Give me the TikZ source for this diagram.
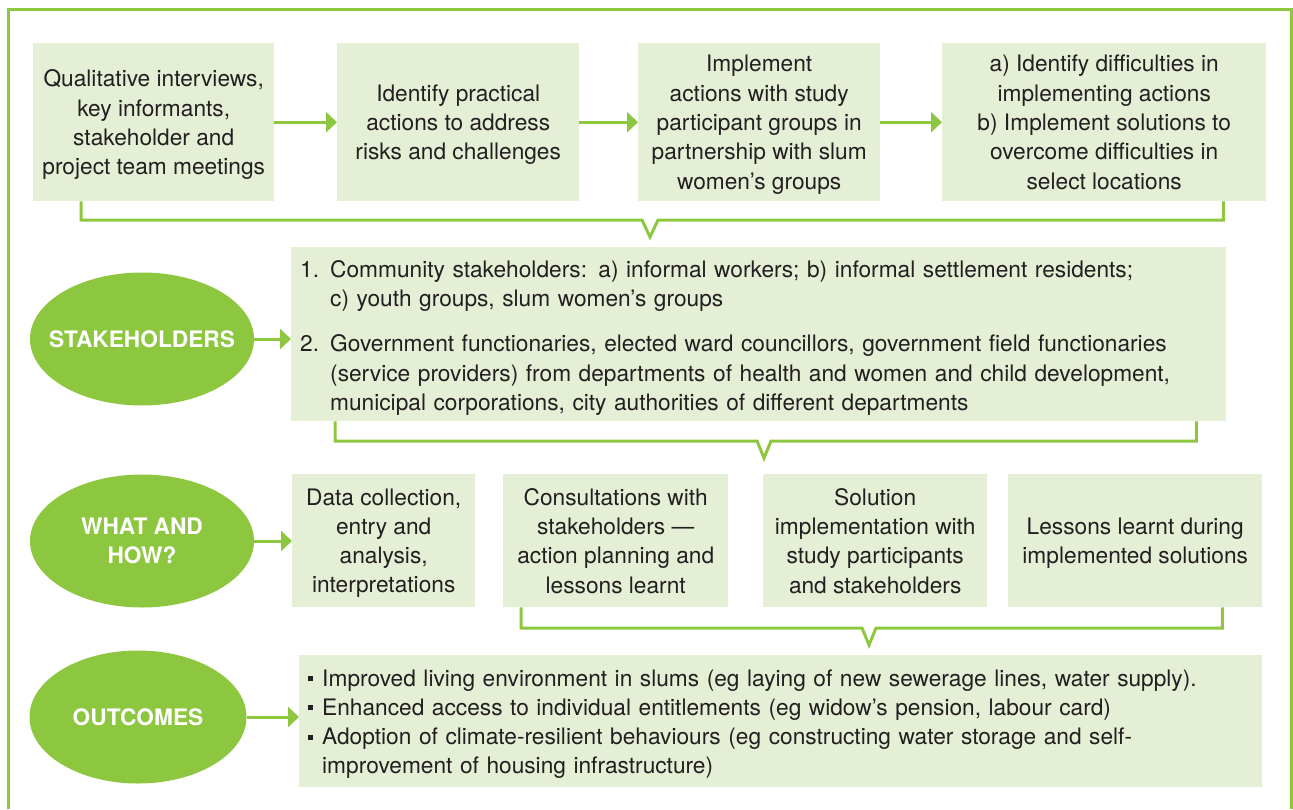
\documentclass[tikz,border=0pt]{standalone}
\usepackage{fontspec}
\setmainfont{TeX Gyre Heros}
\usetikzlibrary{arrows.meta,shapes.geometric,positioning,calc}

\definecolor{leafgreen}{RGB}{141,198,63}
\definecolor{boxgreen}{RGB}{229,239,214}
\definecolor{inkgrey}{RGB}{35,31,32}
\newcommand{\boxfont}{\fontsize{22.7}{29.3}\selectfont}
\newcommand{\sqbul}{\makebox[14pt][l]{\rule[5pt]{5pt}{5pt}}}

\tikzset{
  tilebox/.style={fill=boxgreen, text=inkgrey, inner sep=0pt, font=\boxfont, anchor=north west},
  stepbox/.style={tilebox, align=center, text depth=-4pt},
  listbox/.style={tilebox, align=left, text height=24.5pt, inner xsep=9pt},
  oval/.style={ellipse, fill=leafgreen, text=white, minimum width=224pt, minimum height=133pt, inner sep=0pt, align=center, font=\boxfont\bfseries},
  flow/.style={leafgreen, line width=3pt, -{Triangle[length=11pt,width=20pt]}},
  link/.style={leafgreen, line width=3pt},
}

\begin{document}
\begin{tikzpicture}[x=1pt, y=-1pt]
    \useasboundingbox (0,0) rectangle (1293,809);
    \draw [link] (8,809) |- (1291,9) -- (1291,809);

    % first row
    \node [stepbox, minimum width=241pt, minimum height=158pt] (q1) at (33,43) {Qualitative interviews,\\key informants,\\stakeholder and\\project team meetings};
    \node [stepbox, minimum width=242pt, minimum height=158pt] (q2) at (337,43) {Identify practical\\actions to address\\risks and challenges};
    \node [stepbox, minimum width=242pt, minimum height=158pt] (q3) at (638,43) {Implement\\actions with study\\participant groups in\\partnership with slum\\women’s groups};
    \node [stepbox, minimum width=324pt, minimum height=158pt] (q4) at (942,43) {a) Identify difficulties in\\implementing actions\\b) Implement solutions to\\overcome difficulties in\\select locations};

    \draw [flow] (q1) -- (q2);
    \draw [flow] (q2) -- (q3);
    \draw [flow] (q3) -- (q4);

    % stakeholders
    \node [oval] (stake) at (142,339) {\makebox[0pt]{STAKEHOLDERS}};
    \node [listbox, minimum width=935pt, minimum height=174pt, text width=917pt] (who) at (291,247)
      {\makebox[30pt][l]{1.}Community stakeholders: a) informal workers; b) informal settlement residents;\\
       \hspace*{30pt}c) youth groups, slum women’s groups\\[16pt]
       \makebox[30pt][l]{2.}Government functionaries, elected ward councillors, government field functionaries\\
       \hspace*{30pt}(service providers) from departments of health and women and child development,\\
       \hspace*{30pt}municipal corporations, city authorities of different departments};
    \draw [flow] (stake) -- (who.west |- stake);

    \coordinate (tip1) at (650,237);
    \draw [link] ([xshift=48pt]q1.south west) |- ([shift={(-8,-17)}]tip1) -- (tip1) -- ([shift={(8,-17)}]tip1) -| ([xshift=-43pt]q4.south east);

    % what and how
    \node [oval] (how) at (142,541) {WHAT AND\\HOW?};
    \node [stepbox, minimum width=183pt, minimum height=133pt] (ca) at (292,474) {Data collection,\\entry and\\analysis,\\interpretations};
    \node [stepbox, minimum width=225pt, minimum height=133pt] (cb) at (503,474) {Consultations with\\stakeholders ---\\action planning and\\lessons learnt};
    \node [stepbox, minimum width=224pt, minimum height=133pt] (cc) at (763,474) {Solution\\implementation with\\study participants\\and stakeholders};
    \node [stepbox, minimum width=254pt, minimum height=133pt] (cd) at (1008,474) {Lessons learnt during\\implemented solutions};
    \draw [flow] (how) -- (ca.west |- how);

    \coordinate (tip2) at (764,458);
    \draw [link] ([xshift=44pt]who.south west) |- ([shift={(-7,-17)}]tip2) -- (tip2) -- ([shift={(7,-17)}]tip2) -| ([xshift=-30pt]who.south east);

    % outcomes
    \node [oval, minimum width=217pt] (out) at (138,717) {OUTCOMES};
    \node [listbox, minimum width=963pt, minimum height=132pt, text width=945pt, text height=22.5pt] (res) at (299,655)
      {\sqbul Improved living environment in slums (eg laying of new sewerage lines, water supply).\\
       \sqbul Enhanced access to individual entitlements (eg widow’s pension, labour card)\\
       \sqbul Adoption of climate-resilient behaviours (eg constructing water storage and self-\\
       \hspace*{14pt}improvement of housing infrastructure)};
    \draw [flow] (out) -- (res.west |- out);

    \coordinate (tip3) at (869,645);
    \draw [link] ([xshift=18pt]cb.south west) |- ([shift={(-7,-17)}]tip3) -- (tip3) -- ([shift={(7,-17)}]tip3) -| ([xshift=-40pt]cd.south east);
\end{tikzpicture}
\end{document}
